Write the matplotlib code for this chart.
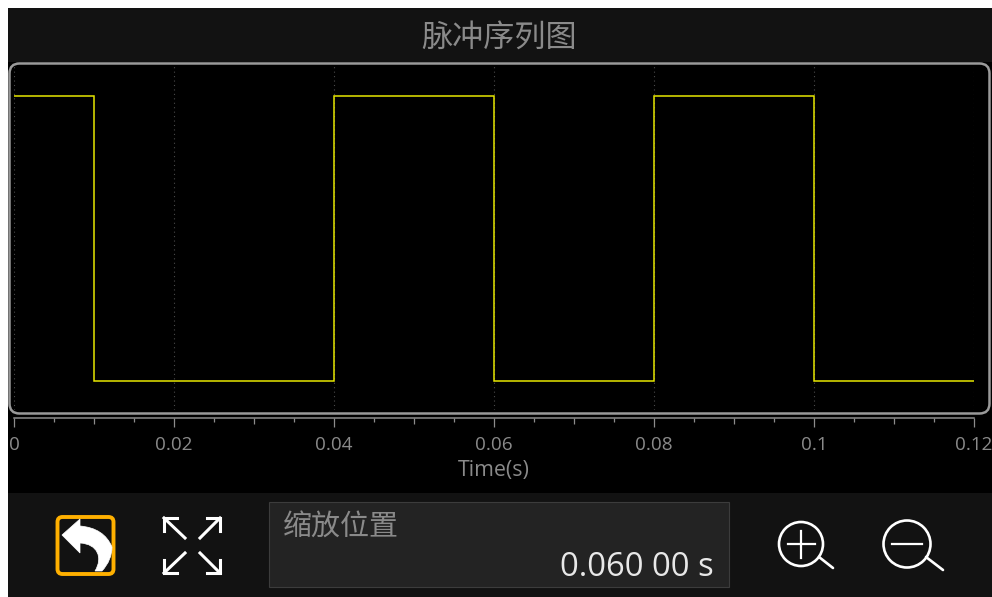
import matplotlib
matplotlib.use("Agg")
import matplotlib.pyplot as plt
from matplotlib.patches import FancyBboxPatch, Rectangle, Circle, PathPatch
from matplotlib.path import Path

W, H = 992, 597
CJK = ["Noto Sans CJK SC", "DejaVu Sans"]

# pulse train data
edges = [0, 0.01, 0.04, 0.06, 0.08, 0.1, 0.12]
levels = [1, 0, 1, 0, 1, 0]
grid_ticks = [0, 0.02, 0.04, 0.06, 0.08, 0.1, 0.12]
tick_labels = ["0", "0.02", "0.04", "0.06", "0.08", "0.1", "0.12"]
mid_ticks = [0.01, 0.03, 0.05, 0.07, 0.09, 0.11]
minor_ticks = [0.005, 0.015, 0.025, 0.035, 0.045, 0.055, 0.065, 0.075, 0.085, 0.095, 0.105, 0.115]

title_text = "脉冲序列图"
xlabel_text = "Time(s)"
panel_label = "缩放位置"
panel_value = "0.060 00 s"


def pixel_axes(fig, zorder):
    # axes over the whole figure, coords are image pixels
    ax = fig.add_axes([0, 0, 1, 1], zorder=zorder)
    ax.set_xlim(0, W)
    ax.set_ylim(H, 0)
    ax.axis("off")
    return ax


def draw_background(ax):
    ax.add_patch(Rectangle((8, 8), W - 8, H - 8, fc="#000000", ec="none"))
    ax.add_patch(Rectangle((8, 8), W - 8, 54, fc="#121212", ec="none"))
    ax.add_patch(Rectangle((8, 493), W - 8, H - 493, fc="#121212", ec="none"))
    ax.add_patch(Rectangle((269, 502), 460, 85, fc="#232323", ec="#3c3c3c", lw=0.8))


def draw_plot(fig):
    left, right, top, bottom = 14, 974, 65, 410
    ax = fig.add_axes([left / W, 1 - bottom / H, (right - left) / W, (bottom - top) / H], zorder=1)
    ax.set_facecolor("#000000")
    ax.vlines(grid_ticks, -0.1018, 1.1088, color="#4a4a4a", lw=0.8, linestyles=(0, (1, 3)), zorder=1)
    ax.stairs(levels, edges, color="#e6e600", lw=1.1, baseline=None, zorder=3)
    ax.set_xlim(0, 0.12)
    ax.set_ylim(-0.1018, 1.1088)
    ax.set_yticks([])
    for s in ["top", "left", "right"]:
        ax.spines[s].set_visible(False)
    ax.spines["bottom"].set_position(("outward", 5.8))
    ax.spines["bottom"].set_color("#8c8c8c")
    ax.spines["bottom"].set_linewidth(1.1)

    ax.set_xticks(grid_ticks + mid_ticks)
    ax.set_xticklabels(tick_labels + [""] * len(mid_ticks), fontname="Open Sans", fontsize=13.6, color="#8a8a8a")
    ax.set_xticks(minor_ticks, minor=True)
    ax.tick_params(axis="x", which="major", length=6.5, width=0.9, color="#8c8c8c", pad=6.6)
    ax.tick_params(axis="x", which="minor", length=3, width=0.9, color="#8c8c8c")
    for t in ax.xaxis.get_major_ticks()[len(grid_ticks):]:
        t.tick1line.set_markersize(4.5)
    ax.set_xlabel(xlabel_text, fontname="Open Sans", fontsize=15.4, color="#8a8a8a", labelpad=4)
    return ax


def draw_back_icon(ax):
    ax.add_patch(FancyBboxPatch((57.5, 517), 56, 57, boxstyle="round,pad=0,rounding_size=5",
                                fc="none", ec="#ffb000", lw=2.8))
    verts = [(62, 535), (80, 519), (80, 526), (104, 528), (112, 547), (112, 560), (102, 571),
             (95, 571), (103, 558), (98, 544), (80, 543), (80, 553), (62, 535)]
    codes = [Path.MOVETO, Path.LINETO, Path.LINETO, Path.CURVE3, Path.CURVE3, Path.CURVE3, Path.CURVE3,
             Path.LINETO, Path.CURVE3, Path.CURVE3, Path.CURVE3, Path.LINETO, Path.CLOSEPOLY]
    codes[8:11] = [Path.CURVE4, Path.CURVE4, Path.CURVE4]
    ax.add_patch(PathPatch(Path(verts, codes), fc="white", ec="white", lw=0.5))


def draw_expand_icon(ax):
    arrows = [((177, 518), (164, 518), (164, 531), (164, 518), (185, 538)),
              ((207, 518), (220, 518), (220, 531), (220, 518), (200, 538)),
              ((177, 573), (164, 573), (164, 560), (164, 573), (185, 553)),
              ((207, 573), (220, 573), (220, 560), (220, 573), (200, 553))]
    for a, c, b, d0, d1 in arrows:
        ax.plot([a[0], c[0], b[0]], [a[1], c[1], b[1]], color="white", lw=2.2, solid_joinstyle="miter")
        ax.plot([d0[0], d1[0]], [d0[1], d1[1]], color="white", lw=2.2)


def draw_magnifier(ax, cx, r, handle, plus):
    cy = 544
    ax.add_patch(Circle((cx, cy), r, fc="none", ec="white", lw=1.9))
    ax.plot([handle[0], handle[2]], [handle[1], handle[3]], color="white", lw=1.9, solid_capstyle="round")
    ax.plot([cx - r + 8.5, cx + r - 8.5], [cy, cy], color="white", lw=1.6)
    if plus:
        ax.plot([cx, cx], [cy - r + 8.5, cy + r - 8.5], color="white", lw=1.6)


def main():
    fig = plt.figure(figsize=(W / 100, H / 100), dpi=100, facecolor="white")

    bg = pixel_axes(fig, 0)
    draw_background(bg)

    draw_plot(fig)

    top = pixel_axes(fig, 2)
    top.patch.set_visible(False)
    top.add_patch(FancyBboxPatch((9.5, 63.5), 980, 350, boxstyle="round,pad=0,rounding_size=10",
                                 fc="none", ec="#9a9a9a", lw=1.8))
    top.text(499.5, 38, title_text, family=CJK, fontsize=22.4, color="#8a8a8a", ha="center", va="center")
    top.text(283, 528, panel_label, family=CJK, fontsize=20.9, color="#8a8a8a", ha="left", va="center")
    top.text(714, 568, panel_value, fontname="Open Sans", fontsize=23.6, color="#e8e8e8", ha="right", va="center")

    draw_back_icon(top)
    draw_expand_icon(top)
    draw_magnifier(top, 801, 22, (819, 557, 833, 568), True)
    draw_magnifier(top, 907, 23.5, (926, 557, 943, 570), False)

    fig.savefig("out.png", dpi=100, facecolor="white")


if __name__ == "__main__":
    main()
